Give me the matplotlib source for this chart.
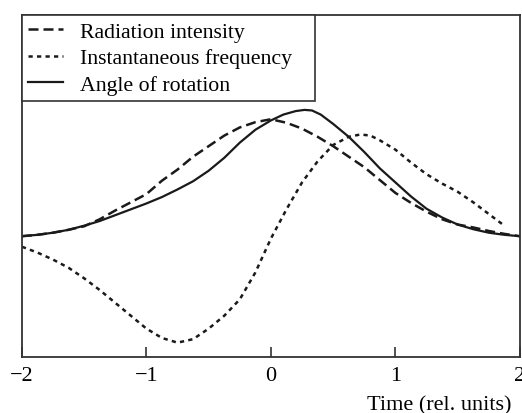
import matplotlib
matplotlib.use('Agg')
import matplotlib.pyplot as plt

plt.rcParams['font.family'] = ['Liberation Serif', 'DejaVu Serif']

# time axis (rel. units) and curves
t_int = [-2.0, -1.875, -1.75, -1.625, -1.5, -1.375, -1.25, -1.125, -1.0,
         -0.875, -0.75, -0.625, -0.5, -0.375, -0.25, -0.125, 0.0,
         0.125, 0.25, 0.375, 0.5, 0.625, 0.75, 0.875, 1.0,
         1.125, 1.25, 1.375, 1.5, 1.625, 1.75, 1.875, 2.0]
intensity = [0.0, 0.012, 0.03, 0.055, 0.085, 0.145, 0.22, 0.29, 0.36,
             0.475, 0.57, 0.68, 0.77, 0.86, 0.93, 0.975, 1.0,
             0.97, 0.92, 0.85, 0.77, 0.68, 0.59, 0.48, 0.37,
             0.285, 0.21, 0.145, 0.10, 0.075, 0.045, 0.02, 0.0]

t_freq = [-2.0, -1.875, -1.75, -1.625, -1.5, -1.375, -1.25, -1.125, -1.0,
          -0.875, -0.75, -0.625, -0.5, -0.375, -0.25, -0.125, 0.0,
          0.125, 0.25, 0.375, 0.5, 0.625, 0.72, 0.8, 0.875, 1.0,
          1.125, 1.25, 1.375, 1.5, 1.625, 1.75, 1.875]
frequency = [-0.09, -0.14, -0.20, -0.27, -0.36, -0.46, -0.57, -0.68, -0.79,
             -0.87, -0.91, -0.88, -0.79, -0.68, -0.54, -0.31, -0.02,
             0.23, 0.46, 0.64, 0.78, 0.85, 0.87, 0.86, 0.82, 0.74,
             0.63, 0.53, 0.45, 0.38, 0.29, 0.19, 0.09]

t_ang = [-2.0, -1.875, -1.75, -1.625, -1.5, -1.375, -1.25, -1.125, -1.0,
         -0.875, -0.75, -0.625, -0.5, -0.375, -0.25, -0.125, 0.0, 0.1,
         0.2, 0.27, 0.33, 0.4, 0.5, 0.625, 0.75, 0.875, 1.0,
         1.125, 1.25, 1.375, 1.5, 1.625, 1.75, 1.875, 2.0]
angle = [0.0, 0.012, 0.03, 0.055, 0.09, 0.13, 0.18, 0.23, 0.28,
         0.335, 0.40, 0.47, 0.56, 0.67, 0.80, 0.91, 0.99, 1.04,
         1.07, 1.08, 1.075, 1.04, 0.96, 0.85, 0.72, 0.58, 0.46,
         0.34, 0.235, 0.16, 0.10, 0.06, 0.03, 0.012, 0.0]

xticks = [-2, -1, 0, 1, 2]
xlabel = 'Time (rel. units)'
labels = ['Radiation intensity', 'Instantaneous frequency', 'Angle of rotation']

fig = plt.figure(figsize=(5.22, 4.14), dpi=100)
ax = fig.add_axes([0.042, 0.136, 0.954, 0.825])

lc = '#1a1a1a'
ax.plot(t_int, intensity, color=lc, lw=1.8, dashes=(4, 2), label=labels[0])
ax.plot(t_freq, frequency, color=lc, lw=1.8, dashes=(1.7, 1.7), label=labels[1])
ax.plot(t_ang, angle, color=lc, lw=1.6, label=labels[2])

ax.set_xlim(-2, 2)
ax.set_ylim(-1.03, 1.89)
ax.set_xticks(xticks)
ax.set_yticks([])
ax.tick_params(axis='x', direction='in', length=7, width=1.2, color='#333333',
               labelsize=16, pad=7)
for s in ax.spines.values():
    s.set_linewidth(1.3)
    s.set_color('#333333')

ax.text(0.983, -0.113, xlabel, transform=ax.transAxes, ha='right', va='top', fontsize=16)

# legend box is wider than its text in the reference -> expand mode
leg = ax.legend(loc='upper left', bbox_to_anchor=(0, 0.7, 0.588, 0.3), mode='expand',
                borderaxespad=0, fontsize=15.7, frameon=True, fancybox=False,
                handlelength=1.6, handletextpad=0.75, borderpad=0.3, labelspacing=0.28)
leg.get_frame().set_edgecolor('#333333')
leg.get_frame().set_linewidth(1.2)
leg.get_frame().set_alpha(1)

plt.savefig('out.png', dpi=100, facecolor='w')
